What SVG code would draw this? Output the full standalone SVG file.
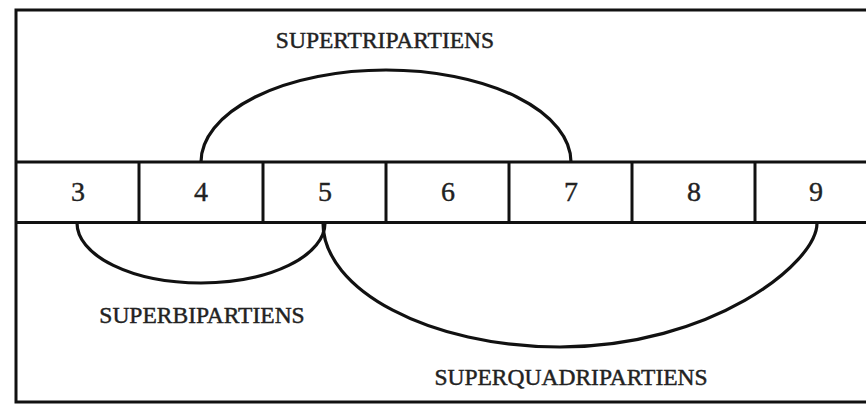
<svg xmlns="http://www.w3.org/2000/svg" width="866" height="404" viewBox="0 0 866 404">
<style>
.ln{fill:none;stroke:#111;stroke-width:3}
.arc{fill:none;stroke:#111;stroke-width:3.2}
.num{font-family:"Liberation Serif","Times New Roman",serif;font-size:28px;fill:#222;stroke:#222;stroke-width:0.4;text-anchor:middle}
.lbl{font-family:"Liberation Serif","Times New Roman",serif;font-size:23.5px;fill:#222;stroke:#222;stroke-width:0.45;text-anchor:middle}
</style>
<rect width="866" height="404" fill="#fff"/>
<g id="frame">
<rect class="ln" x="16" y="10" width="880" height="392"/>
</g>
<g id="row">
<line class="ln" x1="16" y1="162" x2="866" y2="162"/>
<line class="ln" x1="16" y1="222.5" x2="866" y2="222.5"/>
</g>
<g id="n3"><text class="num" x="78" y="201">3</text></g>
<g id="n4"><line class="ln" x1="139" y1="162" x2="139" y2="222.5"/><text class="num" x="201" y="201">4</text></g>
<g id="n5"><line class="ln" x1="263" y1="162" x2="263" y2="222.5"/><text class="num" x="325" y="201">5</text></g>
<g id="n6"><line class="ln" x1="386" y1="162" x2="386" y2="222.5"/><text class="num" x="448" y="201">6</text></g>
<g id="n7"><line class="ln" x1="509" y1="162" x2="509" y2="222.5"/><text class="num" x="571" y="201">7</text></g>
<g id="n8"><line class="ln" x1="632" y1="162" x2="632" y2="222.5"/><text class="num" x="694" y="201">8</text></g>
<g id="n9"><line class="ln" x1="755" y1="162" x2="755" y2="222.5"/><text class="num" x="816" y="201">9</text></g>
<g id="connectors">
<path class="arc" d="M201,162 A185,92 0 0 1 571,162"/>
<path class="arc" d="M77,223 A124,60 0 0 0 325,223"/>
<path class="arc" d="M323,223 C323,290 430,347 560,347 C710,347 817,264 817,223"/>
</g>
<g id="labels">
<text class="lbl" x="385" y="48">SUPERTRIPARTIENS</text>
<text class="lbl" x="202" y="323">SUPERBIPARTIENS</text>
<text class="lbl" x="571" y="385">SUPERQUADRIPARTIENS</text>
</g>
</svg>
